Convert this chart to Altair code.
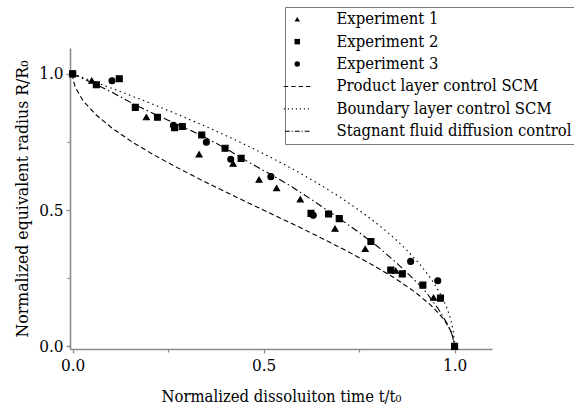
import altair as alt
import pandas as pd

# ---------------- data ----------------
series_order = [
    "Experiment 1",
    "Experiment 2",
    "Experiment 3",
    "Product layer control SCM",
    "Boundary layer control SCM",
    "Stagnant fluid diffusion control",
]

exp1_x = [0.0, 0.050, 0.193, 0.331, 0.420, 0.488, 0.534, 0.596, 0.687, 0.766, 0.846, 0.945, 1.0]
exp1_y = [1.0, 0.975, 0.841, 0.705, 0.671, 0.612, 0.581, 0.540, 0.432, 0.358, 0.278, 0.179, 0.0]

exp2_x = [0.0, 0.062, 0.122, 0.164, 0.222, 0.267, 0.287, 0.338, 0.399, 0.441, 0.624,
          0.670, 0.698, 0.781, 0.833, 0.863, 0.917, 0.963, 1.0]
exp2_y = [1.0, 0.960, 0.982, 0.877, 0.841, 0.803, 0.807, 0.776, 0.727, 0.690, 0.488,
          0.486, 0.469, 0.385, 0.280, 0.266, 0.225, 0.177, 0.0]

exp3_x = [0.0, 0.103, 0.264, 0.350, 0.414, 0.519, 0.630, 0.885, 0.956, 1.0]
exp3_y = [1.0, 0.975, 0.811, 0.749, 0.687, 0.623, 0.481, 0.312, 0.241, 0.0]

product_x = [0.0, 0.001, 0.007, 0.028, 0.061, 0.104, 0.156, 0.216, 0.282, 0.352, 0.425,
             0.500, 0.575, 0.648, 0.718, 0.784, 0.844, 0.896, 0.939, 0.972, 0.993, 1.0]
product_y = [1.0, 0.98, 0.95, 0.90, 0.85, 0.80, 0.75, 0.70, 0.65, 0.60, 0.55,
             0.50, 0.45, 0.40, 0.35, 0.30, 0.25, 0.20, 0.15, 0.10, 0.05, 0.0]

boundary_x = [0.0, 0.0975, 0.19, 0.2775, 0.36, 0.4375, 0.51, 0.5775, 0.64, 0.6975, 0.75,
              0.7975, 0.84, 0.8775, 0.91, 0.9375, 0.96, 0.9775, 0.99, 0.9975, 1.0]
boundary_y = [1.0, 0.95, 0.90, 0.85, 0.80, 0.75, 0.70, 0.65, 0.60, 0.55, 0.50,
              0.45, 0.40, 0.35, 0.30, 0.25, 0.20, 0.15, 0.10, 0.05, 0.0]

stagnant_x = [0.0, 0.05, 0.10, 0.165, 0.226, 0.28, 0.34, 0.40, 0.462, 0.52, 0.575, 0.637,
              0.706, 0.75, 0.80, 0.85, 0.88, 0.916, 0.94, 0.96, 0.98, 0.99, 0.995, 1.0]
stagnant_y = [1.0, 0.968, 0.935, 0.885, 0.845, 0.811, 0.772, 0.727, 0.675, 0.630, 0.585, 0.528,
              0.462, 0.418, 0.365, 0.304, 0.264, 0.215, 0.172, 0.132, 0.085, 0.055, 0.036, 0.0]

x_ticks = [0.0, 0.5, 1.0]
y_ticks = [0.0, 0.5, 1.0]
minor_ticks = [0.25, 0.75]

# ---------------- tables ----------------
def table(xs, ys, name):
    return pd.DataFrame({"x": xs, "y": ys, "series": name})

pts_df = pd.concat([
    table(exp1_x, exp1_y, series_order[0]),
    table(exp2_x, exp2_y, series_order[1]),
    table(exp3_x, exp3_y, series_order[2]),
], ignore_index=True)

lines_df = pd.concat([
    table(product_x, product_y, series_order[3]),
    table(boundary_x, boundary_y, series_order[4]),
    table(stagnant_x, stagnant_y, series_order[5]),
], ignore_index=True)

# ---------------- style ----------------
FONT = "DejaVu Serif Condensed"
FS = 16.5
AXIS_GRAY = "#8c8c8c"


def seg_path(segments):
    # legend line-style glyph built from thin filled segments (symbol units),
    # written with M/L commands only and no spaces
    return "".join(f"M{a},-0.2L{b},-0.2L{b},0.2L{a},0.2" for a, b in segments)


DASHED_SYM = seg_path([(-4.9, -3.3), (-2.2, -0.6), (0.5, 2.1), (3.2, 4.8)])
DOTTED_SYM = seg_path([(s, round(s + 0.4, 2)) for s in (-4.9, -3.44, -1.98, -0.52, 0.94, 2.4, 3.86)])
DASHDOT_SYM = seg_path([(-4.5, -2.7), (-2.0, -1.6), (-0.9, 0.9), (1.6, 2.0), (2.7, 4.5)])

xscale = alt.Scale(domain=[-0.007, 1.098], nice=False, zero=False)
yscale = alt.Scale(domain=[-0.0095, 1.095], nice=False, zero=False)

shape_scale = alt.Scale(domain=series_order,
                        range=["triangle-up", "square", "circle",
                               DASHED_SYM, DOTTED_SYM, DASHDOT_SYM])
dash_scale = alt.Scale(domain=series_order,
                       range=[[1, 0], [1, 0], [1, 0], [5, 3], [1.5, 3.5], [7, 3, 1.5, 3]])

legend = alt.Legend(
    title=None, orient="none", legendX=215, legendY=-41,
    strokeColor="#7a7a7a", padding=4,
    rowPadding=5.4, labelFont=FONT, labelFontSize=FS, labelColor="black",
    labelOffset=31, labelLimit=500, symbolSize=30,
    symbolFillColor="black", symbolStrokeColor="black", symbolStrokeWidth=1.1,
)

x_axis = alt.Axis(values=x_ticks, format=".1f", title="Normalized dissoluiton time t/t₀",
                  orient="bottom", grid=False, domainColor=AXIS_GRAY, domainWidth=1.6,
                  tickColor=AXIS_GRAY, tickWidth=1.3, tickSize=4, labelPadding=4,
                  labelFont=FONT, labelFontSize=17, labelColor="black",
                  titleFont=FONT, titleFontSize=16.5, titleFontWeight="normal",
                  titleColor="black", titlePadding=15)
y_axis = alt.Axis(values=y_ticks, format=".1f", title="Normalized equivalent radius R/R₀",
                  orient="left", grid=False, domainColor=AXIS_GRAY, domainWidth=1.6,
                  tickColor=AXIS_GRAY, tickWidth=1.3, tickSize=4, labelPadding=3,
                  labelFont=FONT, labelFontSize=17, labelColor="black",
                  titleFont=FONT, titleFontSize=17.5, titleFontWeight="normal",
                  titleColor="black", titlePadding=7)

x_minor = alt.Axis(values=minor_ticks, labels=False, domain=False, grid=False, title=None,
                   orient="bottom", tickColor=AXIS_GRAY, tickWidth=1.3, tickSize=3)
y_minor = alt.Axis(values=minor_ticks, labels=False, domain=False, grid=False, title=None,
                   orient="left", tickColor=AXIS_GRAY, tickWidth=1.3, tickSize=3)

points = alt.Chart(pts_df).mark_point(
    filled=False, size=36, fill="black", stroke="black", strokeWidth=1.1,
    opacity=1, fillOpacity=1, strokeOpacity=1
).encode(
    x=alt.X("x:Q", scale=xscale, axis=x_axis),
    y=alt.Y("y:Q", scale=yscale, axis=y_axis),
    shape=alt.Shape("series:N", scale=shape_scale, legend=legend),
)

lines = alt.Chart(lines_df).mark_line(color="black", strokeWidth=1.1).encode(
    x=alt.X("x:Q", scale=xscale, axis=None),
    y=alt.Y("y:Q", scale=yscale, axis=None),
    strokeDash=alt.StrokeDash("series:N", scale=dash_scale, legend=legend),
)

minor = alt.Chart(pts_df).mark_point(opacity=0).encode(
    x=alt.X("x:Q", scale=xscale, axis=x_minor),
    y=alt.Y("y:Q", scale=yscale, axis=y_minor),
)

chart = alt.layer(lines, points, minor).resolve_axis(
    x="independent", y="independent"
).properties(
    width=422, height=301,
    padding={"left": 70, "top": 48, "right": 82, "bottom": 61},
    autosize=alt.AutoSizeParams(type="none"),
    background="white",
).configure_view(stroke=None)

chart.save("out.html", embed_options={"renderer": "svg", "actions": False})
